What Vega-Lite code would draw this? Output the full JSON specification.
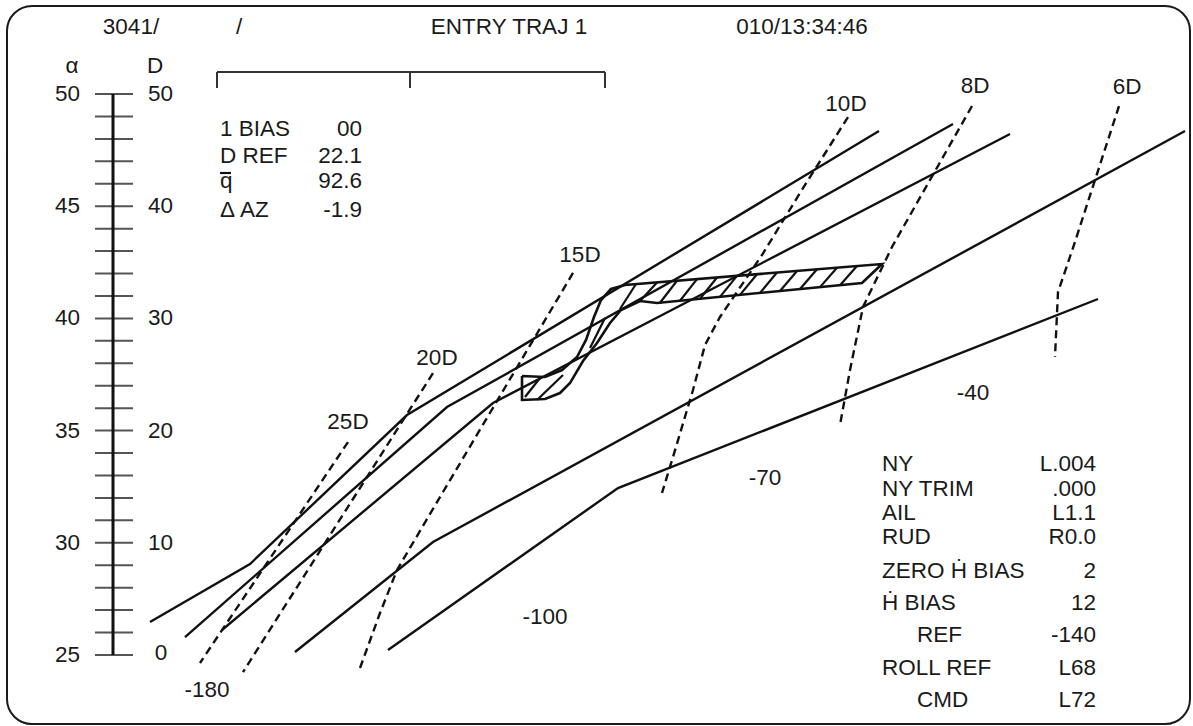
{
  "$schema": "https://vega.github.io/schema/vega-lite/v6.json",
  "width": 1193,
  "height": 726,
  "autosize": {"type": "none"},
  "padding": 0,
  "background": "white",
  "config": {"view": {"stroke": null}},
  "datasets": {
    "border": [{"x": 7, "x2": 1190, "d": 57.85, "d2": -6.15}],
    "axisline": [{"x": 113, "x2": 113, "d": 0, "d2": 50}],
    "ticks": [
      {"x": 95, "x2": 133, "d": 0, "d2": 0}, {"x": 95, "x2": 133, "d": 2, "d2": 2}, {"x": 95, "x2": 133, "d": 4, "d2": 4},
      {"x": 95, "x2": 133, "d": 6, "d2": 6}, {"x": 95, "x2": 133, "d": 8, "d2": 8}, {"x": 95, "x2": 133, "d": 10, "d2": 10},
      {"x": 95, "x2": 133, "d": 12, "d2": 12}, {"x": 95, "x2": 133, "d": 14, "d2": 14}, {"x": 95, "x2": 133, "d": 16, "d2": 16},
      {"x": 95, "x2": 133, "d": 18, "d2": 18}, {"x": 95, "x2": 133, "d": 20, "d2": 20}, {"x": 95, "x2": 133, "d": 22, "d2": 22},
      {"x": 95, "x2": 133, "d": 24, "d2": 24}, {"x": 95, "x2": 133, "d": 26, "d2": 26}, {"x": 95, "x2": 133, "d": 28, "d2": 28},
      {"x": 95, "x2": 133, "d": 30, "d2": 30}, {"x": 95, "x2": 133, "d": 32, "d2": 32}, {"x": 95, "x2": 133, "d": 34, "d2": 34},
      {"x": 95, "x2": 133, "d": 36, "d2": 36}, {"x": 95, "x2": 133, "d": 38, "d2": 38}, {"x": 95, "x2": 133, "d": 40, "d2": 40},
      {"x": 95, "x2": 133, "d": 42, "d2": 42}, {"x": 95, "x2": 133, "d": 44, "d2": 44}, {"x": 95, "x2": 133, "d": 46, "d2": 46},
      {"x": 95, "x2": 133, "d": 48, "d2": 48}, {"x": 95, "x2": 133, "d": 50, "d2": 50}
    ],
    "bar": [
      {"x": 217, "x2": 605, "d": 51.96, "d2": 51.96},
      {"x": 217, "x2": 217, "d": 51.96, "d2": 50.54},
      {"x": 410, "x2": 410, "d": 51.96, "d2": 50.54},
      {"x": 605, "x2": 605, "d": 51.96, "d2": 50.54}
    ],
    "segs": [
      {"x": 660, "d": 31.40, "x2": 677, "d2": 33.36},
      {"x": 680, "d": 31.57, "x2": 697, "d2": 33.50},
      {"x": 700, "d": 31.75, "x2": 717, "d2": 33.65},
      {"x": 720, "d": 31.92, "x2": 737, "d2": 33.79},
      {"x": 740, "d": 32.10, "x2": 757, "d2": 33.94},
      {"x": 760, "d": 32.27, "x2": 777, "d2": 34.09},
      {"x": 780, "d": 32.44, "x2": 797, "d2": 34.23},
      {"x": 800, "d": 32.62, "x2": 817, "d2": 34.38},
      {"x": 820, "d": 32.79, "x2": 837, "d2": 34.52},
      {"x": 840, "d": 32.96, "x2": 857, "d2": 34.67},
      {"x": 640, "d": 31.55, "x2": 657, "d2": 33.21},
      {"x": 620, "d": 30.84, "x2": 636, "d2": 33.07},
      {"x": 525, "d": 23.00, "x2": 540, "d2": 24.69},
      {"x": 537, "d": 22.73, "x2": 563, "d2": 24.96},
      {"x": 590, "d": 27.36, "x2": 605, "d2": 30.04},
      {"x": 220, "d": 42.96, "x2": 231, "d2": 42.96}
    ],
    "solid": [
      {"s": "L1", "i": 0, "x": 150, "d": 2.94}, {"s": "L1", "i": 1, "x": 250, "d": 8.11}, {"s": "L1", "i": 2, "x": 407, "d": 21.39}, {"s": "L1", "i": 3, "x": 879, "d": 46.70},
      {"s": "L2", "i": 0, "x": 185, "d": 1.60}, {"s": "L2", "i": 1, "x": 447, "d": 22.10}, {"s": "L2", "i": 2, "x": 953, "d": 47.33},
      {"s": "L3", "i": 0, "x": 222, "d": 2.23}, {"s": "L3", "i": 1, "x": 493, "d": 22.46}, {"s": "L3", "i": 2, "x": 1010, "d": 46.44},
      {"s": "L4", "i": 0, "x": 295, "d": 0.27}, {"s": "L4", "i": 1, "x": 433, "d": 10.07}, {"s": "L4", "i": 2, "x": 1185, "d": 46.70},
      {"s": "L5", "i": 0, "x": 388, "d": 0.45}, {"s": "L5", "i": 1, "x": 618, "d": 14.88}, {"s": "L5", "i": 2, "x": 1098, "d": 31.73}
    ],
    "dashed": [
      {"s": "25D", "i": 0, "x": 348, "d": 18.98}, {"s": "25D", "i": 1, "x": 200, "d": -0.71},
      {"s": "20D", "i": 0, "x": 433, "d": 25.13}, {"s": "20D", "i": 1, "x": 243, "d": -1.52},
      {"s": "15D", "i": 0, "x": 573, "d": 34.05}, {"s": "15D", "i": 1, "x": 440, "d": 14.08}, {"s": "15D", "i": 2, "x": 397, "d": 7.58}, {"s": "15D", "i": 3, "x": 380, "d": 3.74}, {"s": "15D", "i": 4, "x": 360, "d": -1.16},
      {"s": "10D", "i": 0, "x": 848, "d": 47.95}, {"s": "10D", "i": 1, "x": 800, "d": 41.18}, {"s": "10D", "i": 2, "x": 762, "d": 35.65}, {"s": "10D", "i": 3, "x": 720, "d": 30.13}, {"s": "10D", "i": 4, "x": 705, "d": 27.63}, {"s": "10D", "i": 5, "x": 693, "d": 23.62}, {"s": "10D", "i": 6, "x": 673, "d": 17.65}, {"s": "10D", "i": 7, "x": 662, "d": 14.44},
      {"s": "8D", "i": 0, "x": 972, "d": 48.93}, {"s": "8D", "i": 1, "x": 930, "d": 42.34}, {"s": "8D", "i": 2, "x": 892, "d": 36.37}, {"s": "8D", "i": 3, "x": 863, "d": 31.02}, {"s": "8D", "i": 4, "x": 850, "d": 25.40}, {"s": "8D", "i": 5, "x": 840, "d": 20.50},
      {"s": "6D", "i": 0, "x": 1119, "d": 48.93}, {"s": "6D", "i": 1, "x": 1073, "d": 36.28}, {"s": "6D", "i": 2, "x": 1058, "d": 32.35}, {"s": "6D", "i": 3, "x": 1055, "d": 26.56}
    ],
    "band": [
      {"s": "band", "i": 0, "x": 522, "d": 24.87}, {"s": "band", "i": 1, "x": 545, "d": 24.78}, {"s": "band", "i": 2, "x": 562, "d": 25.40},
      {"s": "band", "i": 3, "x": 577, "d": 26.56}, {"s": "band", "i": 4, "x": 586, "d": 28.08}, {"s": "band", "i": 5, "x": 594, "d": 30.13},
      {"s": "band", "i": 6, "x": 601, "d": 31.64}, {"s": "band", "i": 7, "x": 611, "d": 32.62}, {"s": "band", "i": 8, "x": 625, "d": 32.98},
      {"s": "band", "i": 9, "x": 882, "d": 34.85}, {"s": "band", "i": 10, "x": 862, "d": 33.16}, {"s": "band", "i": 11, "x": 657, "d": 31.37},
      {"s": "band", "i": 12, "x": 640, "d": 31.55}, {"s": "band", "i": 13, "x": 621, "d": 30.75}, {"s": "band", "i": 14, "x": 610, "d": 29.59},
      {"s": "band", "i": 15, "x": 597, "d": 27.81}, {"s": "band", "i": 16, "x": 583, "d": 26.20}, {"s": "band", "i": 17, "x": 570, "d": 24.24},
      {"s": "band", "i": 18, "x": 560, "d": 23.35}, {"s": "band", "i": 19, "x": 545, "d": 22.82}, {"s": "band", "i": 20, "x": 522, "d": 22.73},
      {"s": "band", "i": 21, "x": 522, "d": 24.87}
    ],
    "tcenter": [
      {"x": 131, "d": 55.97, "t": "3041/"},
      {"x": 239, "d": 55.97, "t": "/"},
      {"x": 509, "d": 55.97, "t": "ENTRY TRAJ 1"},
      {"x": 802, "d": 55.97, "t": "010/13:34:46"},
      {"x": 72, "d": 52.5, "t": "α"},
      {"x": 155, "d": 52.5, "t": "D"},
      {"x": 348, "d": 20.77, "t": "25D"},
      {"x": 437, "d": 26.47, "t": "20D"},
      {"x": 580, "d": 35.65, "t": "15D"},
      {"x": 846, "d": 49.11, "t": "10D"},
      {"x": 975, "d": 50.71, "t": "8D"},
      {"x": 1127, "d": 50.63, "t": "6D"},
      {"x": 161, "d": 0.18, "t": "0"},
      {"x": 207, "d": -3.12, "t": "-180"},
      {"x": 545, "d": 3.39, "t": "-100"},
      {"x": 765, "d": 15.78, "t": "-70"},
      {"x": 973, "d": 23.35, "t": "-40"}
    ],
    "tleft": [
      {"x": 220, "d": 46.88, "t": "1 BIAS"},
      {"x": 220, "d": 44.48, "t": "D REF"},
      {"x": 220, "d": 42.25, "t": "q"},
      {"x": 220, "d": 39.66, "t": "Δ AZ"},
      {"x": 148, "d": 50, "t": "50"},
      {"x": 148, "d": 40, "t": "40"},
      {"x": 148, "d": 30, "t": "30"},
      {"x": 148, "d": 20, "t": "20"},
      {"x": 148, "d": 10, "t": "10"},
      {"x": 882, "d": 17.02, "t": "NY"},
      {"x": 882, "d": 14.80, "t": "NY TRIM"},
      {"x": 882, "d": 12.66, "t": "AIL"},
      {"x": 882, "d": 10.52, "t": "RUD"},
      {"x": 882, "d": 7.5, "t": "ZERO Ḣ BIAS"},
      {"x": 882, "d": 4.6, "t": "Ḣ BIAS"},
      {"x": 917, "d": 1.75, "t": "REF"},
      {"x": 882, "d": -1.2, "t": "ROLL REF"},
      {"x": 917, "d": -4.0, "t": "CMD"}
    ],
    "tright": [
      {"x": 362, "d": 46.88, "t": "00"},
      {"x": 362, "d": 44.48, "t": "22.1"},
      {"x": 362, "d": 42.25, "t": "92.6"},
      {"x": 362, "d": 39.66, "t": "-1.9"},
      {"x": 80, "d": 50, "t": "50"},
      {"x": 80, "d": 40, "t": "45"},
      {"x": 80, "d": 30, "t": "40"},
      {"x": 80, "d": 20, "t": "35"},
      {"x": 80, "d": 10, "t": "30"},
      {"x": 80, "d": 0, "t": "25"},
      {"x": 1096, "d": 17.02, "t": "L.004"},
      {"x": 1096, "d": 14.80, "t": ".000"},
      {"x": 1096, "d": 12.66, "t": "L1.1"},
      {"x": 1096, "d": 10.52, "t": "R0.0"},
      {"x": 1096, "d": 7.5, "t": "2"},
      {"x": 1096, "d": 4.6, "t": "12"},
      {"x": 1096, "d": 1.75, "t": "-140"},
      {"x": 1096, "d": -1.2, "t": "L68"},
      {"x": 1096, "d": -4.0, "t": "L72"}
    ]
  },
  "encoding": {
    "x": {"field": "x", "type": "quantitative", "scale": {"domain": [0, 1193], "nice": false, "zero": false}, "axis": null},
    "y": {"field": "d", "type": "quantitative", "scale": {"domain": [-6.328, 58.38], "nice": false, "zero": false}, "axis": null}
  },
  "layer": [
    {
      "data": {"name": "border"},
      "mark": {"type": "rect", "fill": "transparent", "stroke": "#1a1a1a", "strokeWidth": 2, "cornerRadius": 25},
      "encoding": {"x2": {"field": "x2"}, "y2": {"field": "d2"}}
    },
    {
      "data": {"name": "ticks"},
      "mark": {"type": "rule", "stroke": "#555555", "strokeWidth": 2},
      "encoding": {"x2": {"field": "x2"}, "y2": {"field": "d2"}}
    },
    {
      "data": {"name": "axisline"},
      "mark": {"type": "rule", "stroke": "#111111", "strokeWidth": 3},
      "encoding": {"x2": {"field": "x2"}, "y2": {"field": "d2"}}
    },
    {
      "data": {"name": "bar"},
      "mark": {"type": "rule", "stroke": "#333333", "strokeWidth": 2},
      "encoding": {"x2": {"field": "x2"}, "y2": {"field": "d2"}}
    },
    {
      "data": {"name": "solid"},
      "mark": {"type": "line", "stroke": "#111111", "strokeWidth": 2.4},
      "encoding": {"detail": {"field": "s"}, "order": {"field": "i"}}
    },
    {
      "data": {"name": "dashed"},
      "mark": {"type": "line", "stroke": "#111111", "strokeWidth": 2.4, "strokeDash": [8, 5]},
      "encoding": {"detail": {"field": "s"}, "order": {"field": "i"}}
    },
    {
      "data": {"name": "band"},
      "mark": {"type": "line", "stroke": "#111111", "strokeWidth": 2.6},
      "encoding": {"detail": {"field": "s"}, "order": {"field": "i"}}
    },
    {
      "data": {"name": "segs"},
      "mark": {"type": "rule", "stroke": "#111111", "strokeWidth": 2.2},
      "encoding": {"x2": {"field": "x2"}, "y2": {"field": "d2"}}
    },
    {
      "data": {"name": "tcenter"},
      "mark": {"type": "text", "align": "center", "baseline": "middle", "font": "Liberation Sans", "fontSize": 22.5, "color": "#1a1a1a"},
      "encoding": {"text": {"field": "t"}}
    },
    {
      "data": {"name": "tleft"},
      "mark": {"type": "text", "align": "left", "baseline": "middle", "font": "Liberation Sans", "fontSize": 22.5, "color": "#1a1a1a"},
      "encoding": {"text": {"field": "t"}}
    },
    {
      "data": {"name": "tright"},
      "mark": {"type": "text", "align": "right", "baseline": "middle", "font": "Liberation Sans", "fontSize": 22.5, "color": "#1a1a1a"},
      "encoding": {"text": {"field": "t"}}
    }
  ]
}
